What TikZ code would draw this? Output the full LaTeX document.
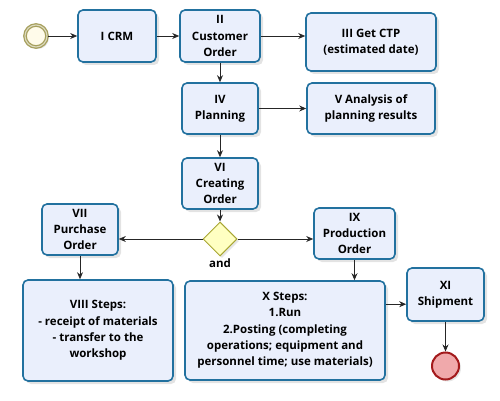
\documentclass[tikz,border=0pt]{standalone}
\usepackage{fontspec}
\setmainfont{Open Sans}
\usetikzlibrary{arrows.meta,shapes.geometric,shadows}
\definecolor{taskfill}{HTML}{EAEFFC}
\definecolor{taskline}{HTML}{22719F}
\definecolor{startfill}{HTML}{FFFBEA}
\definecolor{startline}{HTML}{A69F5C}
\definecolor{gatefill}{HTML}{FFFFC2}
\definecolor{gateline}{HTML}{A8A634}
\definecolor{endfill}{HTML}{F0A9AB}
\definecolor{endline}{HTML}{A31A1C}

\begin{document}
\begin{tikzpicture}[x=1pt,y=-1pt,>={Stealth[length=7pt,width=6pt]},
    font=\bfseries\fontsize{11.5}{16.3}\selectfont,
    task/.style={draw=taskline,fill=taskfill,line width=1.6pt,rounded corners=5pt,
      align=center,inner sep=2pt,
      drop shadow={opacity=0.22,shadow xshift=3pt,shadow yshift=-3pt}},
    flow/.style={->,line width=0.8pt,black!85}]
  \useasboundingbox (0,0) rectangle (500,401);

  % --- eventos
  \node[circle,minimum size=22pt,inner sep=0pt,fill=startfill,draw=startline,
        line width=1.3pt,double=startline!40,double distance=1.1pt,
        drop shadow={opacity=0.2,shadow xshift=2pt,shadow yshift=-2pt}] (start) at (36,36) {};
  \node[circle,minimum size=27pt,inner sep=0pt,fill=endfill,draw=endline,line width=2pt,
        drop shadow={opacity=0.2,shadow xshift=2pt,shadow yshift=-2pt}] (end) at (445.5,366) {};

  % --- tareas
  \node[task,minimum width=78pt,minimum height=52pt] (crm) at (117,36) {I CRM};
  \node[task,minimum width=80pt,minimum height=52pt] (cust) at (220,36) {II\\Customer\\Order};
  \node[task,minimum width=130pt,minimum height=58pt] (ctp) at (371,42) {III Get CTP\\(estimated date)};
  \node[task,minimum width=76pt,minimum height=51pt] (plan) at (220,108.5) {IV\\Planning};
  \node[task,minimum width=128pt,minimum height=51pt] (anal) at (371,108.5) {V Analysis of\\planning results};
  \node[task,minimum width=76pt,minimum height=51pt] (creat) at (220,183.5) {VI\\Creating\\Order};
  \node[task,minimum width=76pt,minimum height=51pt] (purch) at (80,229.5) {VII\\Purchase\\Order};
  \node[task,minimum width=81pt,minimum height=51pt] (prod) at (354.5,233.5) {IX\\Production\\Order};
  \node[task,minimum width=150pt,minimum height=101pt] (viii) at (98,330.5)
       {VIII Steps:\\- receipt of materials\\- transfer to the\\workshop};
  \node[task,minimum width=200pt,minimum height=99pt] (xsteps) at (285,330.5)
       {X Steps:\\1.Run\\2.Posting (completing\\operations; equipment and\\personnel time; use materials)};
  \node[task,minimum width=77pt,minimum height=53pt] (ship) at (445.5,294.5) {XI\\Shipment};

  % --- compuerta
  \node[diamond,minimum width=34pt,minimum height=34pt,inner sep=0pt,fill=gatefill,
        draw=gateline,line width=1pt,
        drop shadow={opacity=0.2,shadow xshift=2pt,shadow yshift=-2pt}] (gate) at (220,239) {};
  \node (andlbl) at (220,263) {and};

  % --- flujos
  \draw[flow] (start) -- (crm);
  \draw[flow] (crm) -- (cust);
  \draw[flow] (cust) -- (cust -| ctp.west);
  \draw[flow] (cust) -- (plan);
  \draw[flow] (plan) -- (anal);
  \draw[flow] (plan) -- (creat);
  \draw[flow] (creat) -- (gate);
  \draw[flow] (gate) -- (gate -| purch.east);
  \draw[flow] (gate) -- (gate -| prod.west);
  \draw[flow] (purch.south) -- (purch.south |- viii.north);
  \draw[flow] (prod.south) -- (prod.south |- xsteps.north);
  \coordinate (xout) at ([yshift=-24pt]xsteps.north east);
  \draw[flow] (xout) -- (xout -| ship.west);
  \draw[flow] (ship) -- (end);
\end{tikzpicture}
\end{document}
